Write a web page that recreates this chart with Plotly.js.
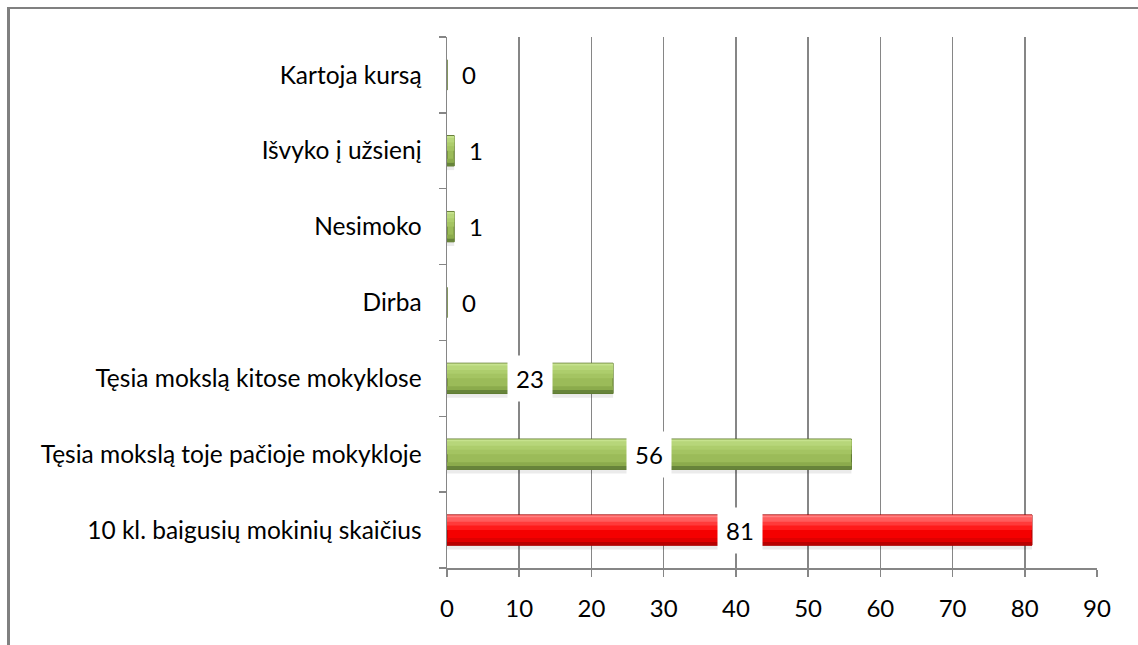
<!DOCTYPE html>
<html>
<head>
<meta charset="utf-8">
<script src="https://cdn.plot.ly/plotly-3.0.1.min.js"></script>
<style>
  html, body { margin: 0; padding: 0; background: #fff; }
  #chart { width: 1138px; height: 645px; position: relative; }
  #frame {
    position: absolute; left: 7px; top: 7px; right: 0; bottom: 0;
    border-left: 3px solid #808080; border-top: 2px solid #808080;
    pointer-events: none;
  }
</style>
</head>
<body>
<div id="chart"><div id="frame"></div></div>
<script>
// Data ------------------------------------------------------------------------
const categories = [
  '10 kl. baigusių mokinių skaičius',
  'Tęsia mokslą toje pačioje mokykloje',
  'Tęsia mokslą kitose mokyklose',
  'Dirba',
  'Nesimoko',
  'Išvyko į užsienį',
  'Kartoja kursą'
]
const counts = [81, 56, 23, 0, 1, 1, 0]
const xTicks = [0, 10, 20, 30, 40, 50, 60, 70, 80, 90]

// Styles ----------------------------------------------------------------------
const FONT = 'Lato, "Open Sans", sans-serif'
const isTotal = categories.map((c, i) => i === 0)
const pick = (red, green) => isTotal.map(t => t ? red : green)

const bar = (offset, width, color, line) => ({
  type: 'bar',
  orientation: 'h',
  x: counts,
  y: categories,
  offset: offset,
  width: width,
  marker: { color: color, line: line || { width: 0 } },
  hoverinfo: 'skip',
  showlegend: false
})

// stacked bands fake the bevelled gradient of the original
const traces = [
  bar(-0.255, 0.06, 'rgba(0,0,0,0.08)'),
  bar(-0.2, 0.4, pick('#f50000', '#9bbb59'), { color: pick('#a00000', '#5a742b'), width: 1 }),
  bar(-0.2, 0.045, pick('#b80000', '#67843a')),
  bar(-0.155, 0.05, pick('#e00000', '#8bab4c')),
  bar(0.0, 0.19, pick('#ff1a1a', '#a4c462')),
  bar(0.06, 0.12, pick('#ff3a3a', '#adcd6c')),
  bar(0.11, 0.07, pick('#ff5c5c', '#b7d67a')),
  bar(0.17, 0.025, pick('#ff8080', '#c6e28e'))
]

// Value labels ----------------------------------------------------------------
const annotations = counts.map((v, i) => v >= 10
  ? {
      x: v / 2, y: categories[i], text: String(v), showarrow: false,
      bgcolor: '#ffffff', borderpad: 8,
      font: { family: FONT, size: 24, color: '#000' }
    }
  : {
      x: v, y: categories[i], text: String(v), showarrow: false,
      xanchor: 'left', xshift: 13,
      font: { family: FONT, size: 24, color: '#000' }
    })

const layout = {
  width: 1138,
  height: 645,
  margin: { l: 447, r: 41, t: 37, b: 77 },
  paper_bgcolor: '#fff',
  plot_bgcolor: '#fff',
  barmode: 'overlay',
  font: { family: FONT, size: 24, color: '#000' },
  xaxis: {
    range: [0, 90],
    tickvals: xTicks,
    ticks: 'outside',
    ticklen: 7,
    tickcolor: '#868686',
    tickwidth: 1.5,
    showgrid: true,
    gridcolor: '#868686',
    gridwidth: 1.5,
    showline: true,
    linecolor: '#868686',
    linewidth: 1.5,
    zeroline: false,
    ticklabelstandoff: 12,
    tickfont: { family: FONT, size: 24, color: '#000' },
    fixedrange: true
  },
  yaxis: {
    type: 'category',
    categoryorder: 'array',
    categoryarray: categories,
    ticks: 'outside',
    tickson: 'boundaries',
    ticklen: 7,
    tickcolor: '#868686',
    tickwidth: 1.5,
    showgrid: false,
    showline: true,
    linecolor: '#868686',
    linewidth: 1.5,
    ticklabelstandoff: 19,
    tickfont: { family: FONT, size: 24.5, color: '#000' },
    fixedrange: true
  },
  annotations: annotations
}

Plotly.newPlot('chart', traces, layout, { displayModeBar: false, staticPlot: true })
</script>
</body>
</html>
